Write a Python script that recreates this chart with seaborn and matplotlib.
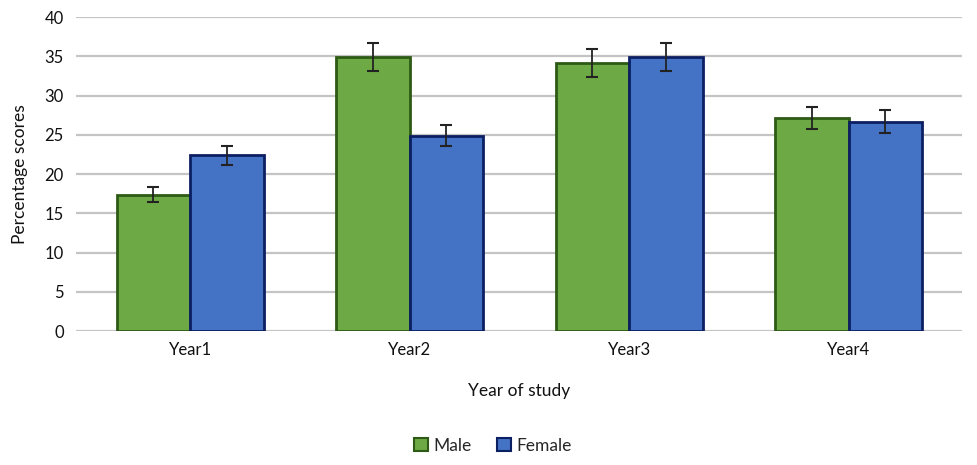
import pandas as pd
import numpy as np
import matplotlib.pyplot as plt
import seaborn as sns

# Values
years = ["Year1", "Year2", "Year3", "Year4"]
male_scores = [17.4, 34.9, 34.2, 27.1]
female_scores = [22.4, 24.9, 34.9, 26.7]
male_err = [1.0, 1.8, 1.8, 1.4]
female_err = [1.2, 1.3, 1.8, 1.5]

df = pd.DataFrame({
    "year": years * 2,
    "sex": ["Male"] * 4 + ["Female"] * 4,
    "score": male_scores + female_scores,
    "err": male_err + female_err,
})

sns.set_theme(style="white")
plt.rcParams["font.family"] = ["Lato", "DejaVu Sans"]

fig = plt.figure(figsize=(9.78, 4.65), dpi=100)
ax = fig.add_axes([0.078, 0.288, 0.906, 0.675])

palette = {"Male": "#6DA945", "Female": "#4472C4"}
edges = {"Male": "#2d5a14", "Female": "#0c1f63"}

sns.barplot(data=df, x="year", y="score", hue="sex", hue_order=["Male", "Female"],
            palette=palette, saturation=1, errorbar=None, width=0.67, gap=0, ax=ax,
            linewidth=2, zorder=3)

# colour the bar outlines and add error bars at each bar centre
for container, sex in zip(ax.containers, ["Male", "Female"]):
    sub = df[df["sex"] == sex]
    xs = []
    for patch in container:
        patch.set_edgecolor(edges[sex])
        xs.append(patch.get_x() + patch.get_width() / 2)
    ax.errorbar(xs, sub["score"].values, yerr=sub["err"].values, fmt="none",
                ecolor="#222222", elinewidth=1.3, capsize=4, capthick=1.5, zorder=4)

ax.set_ylim(0, 40)
ax.set_yticks(np.arange(0, 41, 5))
ax.yaxis.grid(True, color="#c4c4c4", linewidth=1.6, zorder=0)
ax.set_axisbelow(True)
for s in ax.spines.values():
    s.set_visible(False)
ax.tick_params(axis="both", length=0, labelsize=12, colors="#111111")
ax.tick_params(axis="y", pad=9)
ax.tick_params(axis="x", pad=8)

ax.set_xlabel("Year of study", fontsize=12.5, labelpad=18, color="#111111")
ax.set_ylabel("Percentage scores", fontsize=12.5, labelpad=12, color="#111111")

handles, labels = ax.get_legend_handles_labels()
for h, lab in zip(handles, labels):
    h.set_edgecolor(edges[lab])
    h.set_linewidth(1.5)
ax.legend(handles, labels, loc="upper center", bbox_to_anchor=(0.47, -0.29), ncol=2,
          frameon=False, fontsize=12.5, handlelength=0.8, handleheight=0.8,
          handletextpad=0.3, columnspacing=1.5)

fig.savefig("out.png", dpi=100)
